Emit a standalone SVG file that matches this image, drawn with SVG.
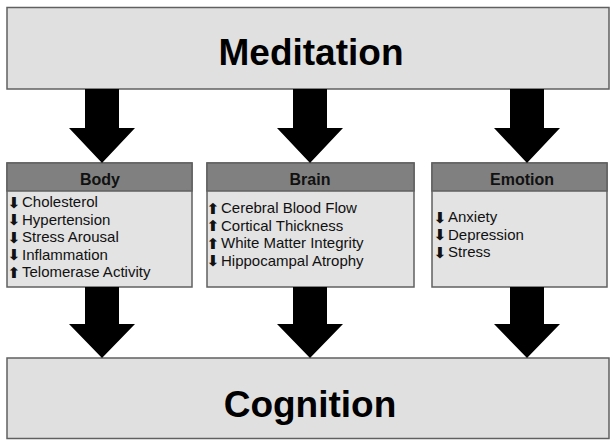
<svg xmlns="http://www.w3.org/2000/svg" width="610" height="441" viewBox="0 0 610 441">
<style>
.big{fill:#e0e0e0;stroke:#606060;stroke-width:1.5}
.panel{fill:#e3e3e3;stroke:#606060;stroke-width:1.5}
.head{fill:#808080;stroke:#606060;stroke-width:1.5}
.title{font-family:"Liberation Sans",Arial,sans-serif;font-weight:bold;font-size:37px;fill:#000;text-anchor:middle}
.htxt{font-family:"Liberation Sans",Arial,sans-serif;font-weight:bold;font-size:16px;fill:#111;text-anchor:middle}
.item{font-family:"Liberation Sans",Arial,sans-serif;font-size:15px;fill:#111}
.ar{font-family:"DejaVu Sans",sans-serif;font-size:15px;fill:#111}
.arrow{fill:#000}
</style>
<rect width="610" height="441" fill="#fff"/>
<g id="meditation">
<rect class="big" x="7" y="7.5" width="602" height="81.5"/>
<text class="title" x="311" y="65">Meditation</text>
</g>
<g id="body">
<rect class="panel" x="7" y="163" width="185" height="124"/>
<rect class="head" x="7" y="163" width="185" height="28"/>
<text class="htxt" x="100" y="185">Body</text>
<text class="ar" transform="translate(7,207.5) scale(1.1,1)">⬇</text><text class="item" x="22" y="207">Cholesterol</text>
<text class="ar" transform="translate(7,225) scale(1.1,1)">⬇</text><text class="item" x="22" y="224.5">Hypertension</text>
<text class="ar" transform="translate(7,242.5) scale(1.1,1)">⬇</text><text class="item" x="22" y="242">Stress Arousal</text>
<text class="ar" transform="translate(7,260) scale(1.1,1)">⬇</text><text class="item" x="22" y="259.5">Inflammation</text>
<text class="ar" transform="translate(7,277.5) scale(1.1,1)">⬆</text><text class="item" x="22" y="277">Telomerase Activity</text>
</g>
<g id="brain">
<rect class="panel" x="207" y="163" width="207" height="124"/>
<rect class="head" x="207" y="163" width="207" height="28"/>
<text class="htxt" x="310" y="185">Brain</text>
<text class="ar" transform="translate(206,213.5) scale(1.1,1)">⬆</text><text class="item" x="221" y="213">Cerebral Blood Flow</text>
<text class="ar" transform="translate(206,231) scale(1.1,1)">⬆</text><text class="item" x="221" y="230.5">Cortical Thickness</text>
<text class="ar" transform="translate(206,248.5) scale(1.1,1)">⬆</text><text class="item" x="221" y="248">White Matter Integrity</text>
<text class="ar" transform="translate(206,266) scale(1.1,1)">⬇</text><text class="item" x="221" y="265.5">Hippocampal Atrophy</text>
</g>
<g id="emotion">
<rect class="panel" x="432" y="163" width="175" height="124"/>
<rect class="head" x="432" y="163" width="175" height="28"/>
<text class="htxt" x="522" y="185">Emotion</text>
<text class="ar" transform="translate(433,222.5) scale(1.1,1)">⬇</text><text class="item" x="448" y="222">Anxiety</text>
<text class="ar" transform="translate(433,240) scale(1.1,1)">⬇</text><text class="item" x="448" y="239.5">Depression</text>
<text class="ar" transform="translate(433,257.5) scale(1.1,1)">⬇</text><text class="item" x="448" y="257">Stress</text>
</g>
<g id="cognition">
<rect class="big" x="7" y="358" width="602" height="80.5"/>
<text class="title" x="310" y="417">Cognition</text>
</g>
<g id="connectors">
<path class="arrow" d="M85,89H119V128H135L102,163L69,128H85Z"/>
<path class="arrow" d="M293,89H327V128H343L310,163L277,128H293Z"/>
<path class="arrow" d="M510,89H544V128H560L527,163L494,128H510Z"/>
<path class="arrow" d="M85,287H119V324H135L102,358L69,324H85Z"/>
<path class="arrow" d="M293,287H327V324H343L310,358L277,324H293Z"/>
<path class="arrow" d="M510,287H544V324H560L527,358L494,324H510Z"/>
</g>
</svg>
